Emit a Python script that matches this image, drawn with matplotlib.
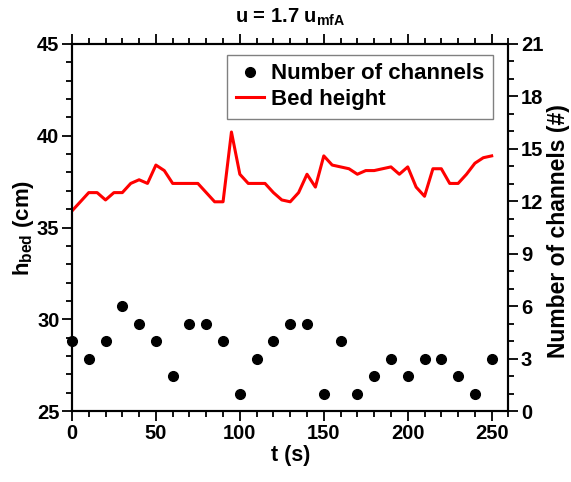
import numpy as np
import matplotlib
matplotlib.use('Agg')
import matplotlib.pyplot as plt
from matplotlib.ticker import MultipleLocator
from matplotlib.lines import Line2D

plt.rcParams['font.family'] = 'Liberation Sans'
plt.rcParams['font.weight'] = 'bold'
plt.rcParams['mathtext.fontset'] = 'custom'
plt.rcParams['mathtext.rm'] = 'Liberation Sans:bold'
plt.rcParams['mathtext.it'] = 'Liberation Sans:bold'
plt.rcParams['mathtext.bf'] = 'Liberation Sans:bold'

# bed height sampled every 5 s
t_bed = np.arange(0, 255, 5)
h_bed = [35.9, 36.4, 36.9, 36.9, 36.5, 36.9, 36.9, 37.4, 37.6, 37.4,
         38.4, 38.1, 37.4, 37.4, 37.4, 37.4, 36.9, 36.4, 36.4, 40.2,
         37.9, 37.4, 37.4, 37.4, 36.9, 36.5, 36.4, 36.9, 37.9, 37.2,
         38.9, 38.4, 38.3, 38.2, 37.9, 38.1, 38.1, 38.2, 38.3, 37.9,
         38.3, 37.2, 36.7, 38.2, 38.2, 37.4, 37.4, 37.9, 38.5, 38.8,
         38.9]

# channel counts every 10 s
t_ch = np.arange(0, 260, 10)
n_ch = [4, 3, 4, 6, 5, 4, 2, 5, 5, 4, 1, 3, 4, 5, 5, 1, 4, 1, 2, 3, 2, 3, 3, 2, 1, 3]

fig = plt.figure(figsize=(5.71, 4.82), dpi=100)
ax = fig.add_axes([0.126, 0.147, 0.7645, 0.762])
ax2 = ax.twinx()

ax.plot(t_bed, h_bed, color='red', lw=2.2, zorder=3)
ax2.plot(t_ch, n_ch, 'o', color='black', ms=7, clip_on=False, zorder=4)

ax.set_xlim(0, 260)
ax.set_ylim(25, 45)
ax2.set_ylim(0, 21)

ax.xaxis.set_major_locator(MultipleLocator(50))
ax.xaxis.set_minor_locator(MultipleLocator(10))
ax.yaxis.set_major_locator(MultipleLocator(5))
ax.yaxis.set_minor_locator(MultipleLocator(1))
ax2.yaxis.set_major_locator(MultipleLocator(3))
ax2.yaxis.set_minor_locator(MultipleLocator(1))

ax.tick_params(axis='x', which='both', direction='out', top=True, labelsize=14.5)
ax.tick_params(axis='y', which='both', direction='out', labelsize=14.5)
ax2.tick_params(axis='y', which='both', direction='out', labelsize=14.5)
for a in (ax, ax2):
    a.tick_params(which='major', length=7, width=1.3, pad=2)
    a.tick_params(which='minor', length=4, width=1.3)
    for s in a.spines.values():
        s.set_linewidth(1.5)

ax.set_xlabel('t (s)', fontsize=15.5, fontweight='bold', labelpad=2)
ax.set_ylabel(r'h$_{\mathregular{bed}}$ (cm)', fontsize=16, fontweight='bold')
ax2.set_ylabel('Number of channels (#)', fontsize=16.5, fontweight='bold')
ax.yaxis.set_label_coords(-0.083, 0.5)
ax2.yaxis.set_label_coords(1.088, 0.49)
ax.set_title(r'u = 1.7 u$_{\mathregular{mfA}}$', fontsize=14.5, fontweight='bold', pad=15)

handles = [Line2D([], [], ls='none', marker='o', color='black', ms=7),
           Line2D([], [], color='red', lw=2.2)]
leg = ax2.legend(handles, ['Number of channels', 'Bed height'],
                 loc='upper right', bbox_to_anchor=(0.9645, 0.970),
                 borderaxespad=0, fancybox=False, framealpha=1,
                 edgecolor='gray', fontsize=16, handlelength=1.25,
                 handletextpad=0.35, borderpad=0.38, labelspacing=0.22)
leg.get_frame().set_linewidth(1.0)
for txt in leg.get_texts():
    txt.set_fontweight('bold')

fig.savefig('out.png', dpi=100)
